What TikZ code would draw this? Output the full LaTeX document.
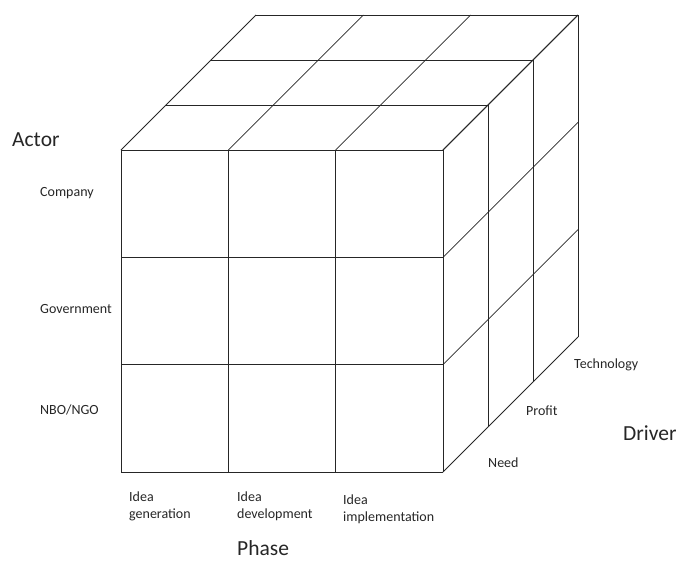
\documentclass[tikz,border=0pt]{standalone}
\usepackage{fontspec}
\setmainfont{Carlito}
\begin{document}
\begin{tikzpicture}[x=1pt,y=-1pt,
  grid/.style={draw=black!85,line width=0.8pt},
  small/.style={font=\fontsize{14}{17}\selectfont,text=black!85,inner sep=0pt,anchor=west,align=left},
  axis/.style={font=\fontsize{21.5}{24}\selectfont,text=black!85,inner sep=0pt,anchor=west}]
\useasboundingbox (0,0) rectangle (676,560);
% cube geometry: front face origin, cell size, depth step
\def\ox{121}\def\oy{150}\def\cs{107.33}\def\dp{45}
% front face grid
\foreach \i in {0,...,3}{
  \draw[grid] (\ox+\i*\cs,\oy) -- (\ox+\i*\cs,\oy+3*\cs);
  \draw[grid] (\ox,\oy+\i*\cs) -- (\ox+3*\cs,\oy+\i*\cs);
}
% top face: receding edges and depth rows
\foreach \i in {0,...,3}
  \draw[grid] (\ox+\i*\cs,\oy) -- (\ox+\i*\cs+3*\dp,\oy-3*\dp);
\foreach \k in {1,...,3}
  \draw[grid] (\ox+\k*\dp,\oy-\k*\dp) -- (\ox+3*\cs+\k*\dp,\oy-\k*\dp);
% right face: receding edges and depth columns
\foreach \j in {0,...,3}
  \draw[grid] (\ox+3*\cs,\oy+\j*\cs) -- (\ox+3*\cs+3*\dp,\oy+\j*\cs-3*\dp);
\foreach \k in {1,...,3}
  \draw[grid] (\ox+3*\cs+\k*\dp,\oy-\k*\dp) -- (\ox+3*\cs+\k*\dp,\oy+3*\cs-\k*\dp);
% actor axis
\node[axis] (actor) at (12,140) {Actor};
\node[small] (company) at (40,192) {Company};
\node[small] (government) at (40,309) {Government};
\node[small] (nbo) at (40,410) {NBO/NGO};
% phase axis
\node[small] (gen) at (129,505) {Idea\\generation};
\node[small] (dev) at (237,505) {Idea\\development};
\node[small] (impl) at (343,508) {Idea\\implementation};
\node[axis] (phase) at (237,548) {Phase};
% driver axis
\node[small] (need) at (488,463) {Need};
\node[small] (profit) at (526,411) {Profit};
\node[small] (tech) at (574,364) {Technology};
\node[axis] (driver) at (623,433) {Driver};
\end{tikzpicture}
\end{document}
